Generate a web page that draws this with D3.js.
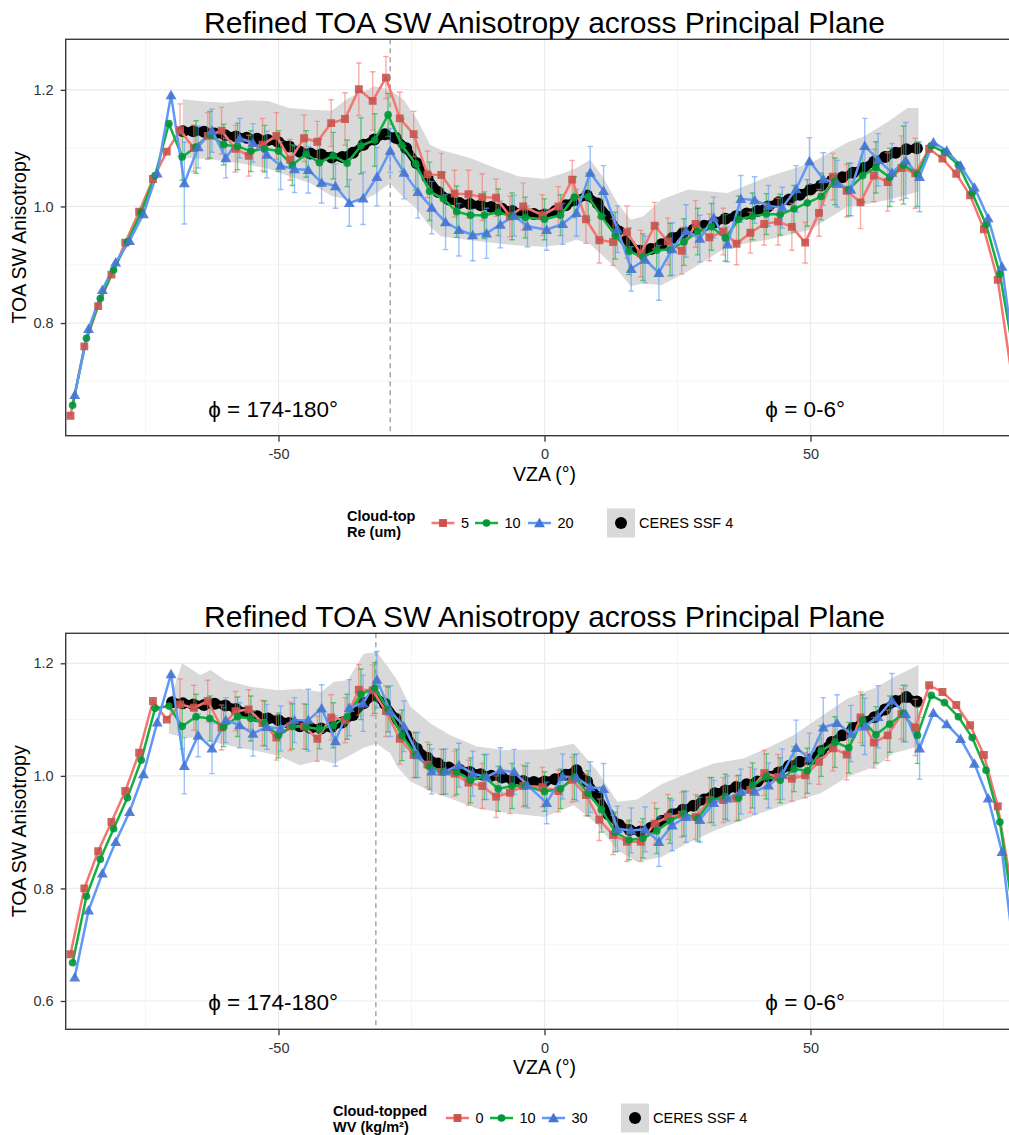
<!DOCTYPE html>
<html>
<head>
<meta charset="utf-8">
<script src="https://cdn.jsdelivr.net/npm/d3@7"></script>
<style>
body { margin: 0; background: #fff; }
svg { display: block; }
text { font-family: "Liberation Sans", Arial, Helvetica, sans-serif; }
</style>
</head>
<body>
<div id="chart"></div>
<script>
// VZA bin centres shared by the three model series
var vza = [-88.7, -86.1, -83.5, -81.0, -78.4, -75.8, -73.2, -70.6, -68.1, -65.5,
  -62.9, -60.3, -57.7, -55.2, -52.6, -50.0, -47.4, -44.8, -42.3, -39.7,
  -37.1, -34.5, -31.9, -29.4, -26.8, -24.2, -21.6, -19.0, -16.5, -13.9,
  -11.3, -8.7, -6.1, -3.6, 0, 3.0, 5.6, 8.2, 10.7, 13.3,
  15.9, 18.5, 21.1, 23.6, 26.2, 28.8, 31.4, 34.0, 36.5, 39.1,
  41.7, 44.3, 46.9, 49.4, 52.0, 54.6, 57.2, 59.8, 62.3, 64.9,
  67.5, 70.1, 72.7, 75.2, 77.8, 80.4, 83.0, 85.6, 88.9]

// ---- top panel : cloud-top Re ----
var re5 = [0.641, 0.760, 0.829, 0.883, 0.938, 0.991, 1.047, 1.094, 1.131, 1.100,
  1.121, 1.130, 1.099, 1.087, 1.106, 1.121, 1.080, 1.117, 1.111, 1.143,
  1.150, 1.201, 1.181, 1.221, 1.151, 1.124, 1.055, 1.054, 1.022, 1.021,
  1.016, 1.015, 0.983, 1.000, 0.985, 1.000, 1.046, 0.978, 0.942, 0.939,
  0.956, 0.919, 0.967, 0.940, 0.924, 0.970, 0.947, 0.957, 0.936, 0.955,
  0.970, 0.974, 0.965, 0.938, 0.989, 1.051, 1.027, 1.007, 1.053, 1.042,
  1.066, 1.057, 1.099, 1.082, 1.056, 1.019, 0.961, 0.874, 0.668]
var re10 = [0.659, 0.774, 0.842, 0.891, 0.939, 0.990, 1.053, 1.142, 1.085, 1.102,
  1.123, 1.106, 1.103, 1.095, 1.099, 1.095, 1.071, 1.090, 1.075, 1.087,
  1.074, 1.104, 1.114, 1.157, 1.105, 1.073, 1.026, 1.013, 0.991, 0.985,
  0.985, 0.990, 0.983, 0.981, 0.978, 0.985, 1.016, 1.017, 0.983, 0.950,
  0.923, 0.913, 0.925, 0.926, 0.939, 0.957, 0.965, 0.946, 0.978, 0.983,
  0.987, 0.986, 0.996, 1.006, 1.017, 1.043, 1.029, 1.053, 1.067, 1.050,
  1.071, 1.055, 1.104, 1.093, 1.071, 1.023, 0.969, 0.884, 0.710]
var re20 = [0.677, 0.790, 0.857, 0.904, 0.941, 0.987, 1.057, 1.191, 1.040, 1.102,
  1.130, 1.083, 1.117, 1.109, 1.089, 1.070, 1.064, 1.063, 1.041, 1.035,
  1.006, 1.014, 1.051, 1.096, 1.058, 1.025, 0.998, 0.973, 0.960, 0.951,
  0.954, 0.969, 0.984, 0.966, 0.960, 0.970, 0.989, 1.058, 1.027, 0.961,
  0.893, 0.909, 0.886, 0.927, 0.958, 0.945, 0.981, 0.935, 1.013, 1.011,
  1.001, 0.998, 1.030, 1.078, 1.047, 1.039, 1.029, 1.104, 1.080, 1.058,
  1.079, 1.051, 1.110, 1.096, 1.070, 1.033, 0.980, 0.897, 0.675]
var errRe5 = [0, 0, 0, 0, 0, 0, 0, 0,
  0.045, 0.04, 0.04, 0.04, 0.04, 0.035, 0.045, 0.04, 0.035, 0.04, 0.035, 0.04,
  0.045, 0.045, 0.05, 0.036, 0.045, 0.039, 0.04, 0.037, 0.04, 0.041,
  0.04, 0.032, 0.035, 0.04, 0.035, 0.034, 0.033, 0.041, 0.039, 0.04,
  0.045, 0.04, 0.04, 0.04, 0.04, 0.04, 0.04, 0.04, 0.036, 0.035,
  0.036, 0.04, 0.04, 0.035, 0.04, 0.04, 0.045, 0.045, 0.045, 0.05,
  0.055, 0.06, 0, 0, 0, 0, 0, 0, 0]
var errRe10 = [0, 0, 0, 0, 0, 0, 0, 0,
  0.04, 0.045, 0.04, 0.035, 0.04, 0.035, 0.04, 0.035, 0.035, 0.04, 0.04, 0.04,
  0.04, 0.048, 0.045, 0.037, 0.045, 0.045, 0.05, 0.045, 0.044, 0.04,
  0.04, 0.04, 0.04, 0.035, 0.035, 0.035, 0.035, 0.04, 0.04, 0.04,
  0.04, 0.04, 0.045, 0.045, 0.04, 0.04, 0.04, 0.04, 0.04, 0.04,
  0.035, 0.035, 0.04, 0.04, 0.04, 0.04, 0.045, 0.045, 0.044, 0.05,
  0.067, 0.055, 0, 0, 0, 0, 0, 0, 0]
var errRe20 = [0, 0, 0, 0, 0, 0, 0, 0,
  0.07, 0.036, 0.037, 0.034, 0.034, 0.033, 0.04, 0.041, 0.04, 0.04, 0.035, 0.038,
  0.04, 0.045, 0.05, 0.038, 0.045, 0.045, 0.045, 0.047, 0.045, 0.044,
  0.043, 0.04, 0.035, 0.035, 0.035, 0.035, 0.04, 0.045, 0.043, 0.04,
  0.038, 0.04, 0.047, 0.045, 0.045, 0.04, 0.035, 0.03, 0.04, 0.04,
  0.035, 0.035, 0.04, 0.04, 0.045, 0.04, 0.045, 0.047, 0.045, 0.05,
  0.065, 0.06, 0, 0, 0, 0, 0, 0, 0]

var ceresXTop = [-68, -66, -64, -62, -60, -58, -56, -54, -52, -50, -48, -46, -44, -42, -40,
  -38, -36, -34, -32, -30, -28, -26, -24, -22, -20, -18, -16, -14, -12, -10,
  -8, -6, -4, -2, 0, 2, 4, 6, 8, 10, 12, 14, 16, 18, 20,
  22, 24, 26, 28, 30, 32, 34, 36, 38, 40, 42, 44, 46, 48, 50,
  52, 54, 56, 58, 60, 62, 64, 66, 68, 70]
var ceresTop = [1.129, 1.129, 1.128, 1.125, 1.122, 1.120, 1.118, 1.116, 1.114, 1.110, 1.103, 1.094, 1.091, 1.089, 1.084,
  1.085, 1.092, 1.106, 1.115, 1.124, 1.118, 1.100, 1.074, 1.050, 1.025, 1.012, 1.006, 1.004, 1.002, 0.999,
  0.996, 0.992, 0.989, 0.987, 0.986, 0.992, 1.002, 1.011, 1.019, 1.005, 0.982, 0.957, 0.933, 0.924, 0.927,
  0.935, 0.946, 0.954, 0.960, 0.967, 0.973, 0.979, 0.983, 0.988, 0.992, 1.000, 1.007, 1.012, 1.020, 1.029,
  1.036, 1.044, 1.050, 1.058, 1.066, 1.077, 1.085, 1.092, 1.098, 1.100]
var ribXTop = [-68, -64, -60, -56, -52, -48, -44, -40, -37, -34,
  -32, -29, -26.5, -24, -21.5, -19.5, -14, -9, -5, 0,
  3.5, 6, 8.6, 11, 13.7, 16.2, 18.6, 22, 27, 34.4,
  42, 50, 57, 60, 64.5, 68.2, 70.3]
var ribHiTop = [1.184, 1.180, 1.178, 1.182, 1.181, 1.169, 1.166, 1.164, 1.185, 1.197,
  1.206, 1.200, 1.183, 1.150, 1.106, 1.097, 1.083, 1.065, 1.052, 1.047,
  1.057, 1.066, 1.080, 1.050, 1.006, 0.977, 0.983, 1.012, 1.029, 1.023,
  1.051, 1.074, 1.110, 1.120, 1.145, 1.169, 1.169]
var ribLoTop = [1.083, 1.082, 1.078, 1.072, 1.065, 1.052, 1.040, 1.018, 1.012, 1.011,
  1.020, 1.040, 1.015, 0.995, 0.965, 0.949, 0.942, 0.937, 0.933, 0.931,
  0.935, 0.943, 0.935, 0.915, 0.891, 0.863, 0.868, 0.865, 0.889, 0.931,
  0.943, 0.960, 1.000, 1.003, 1.011, 1.020, 1.026]

// ---- bottom panel : cloud-topped WV ----
var wv0 = [0.683, 0.800, 0.866, 0.918, 0.973, 1.041, 1.133, 1.100, 1.127, 1.121,
  1.133, 1.086, 1.115, 1.118, 1.094, 1.068, 1.088, 1.088, 1.066, 1.104,
  1.099, 1.153, 1.152, 1.115, 1.066, 1.037, 1.020, 1.007, 1.004, 0.988,
  0.982, 0.963, 0.970, 0.982, 0.980, 0.973, 0.993, 0.966, 0.922, 0.895,
  0.883, 0.883, 0.915, 0.927, 0.931, 0.927, 0.957, 0.957, 0.960, 0.975,
  1.005, 0.998, 0.995, 1.001, 1.025, 1.049, 1.038, 1.104, 1.059, 1.072,
  1.110, 1.086, 1.161, 1.149, 1.126, 1.090, 1.037, 0.946, 0.762]
var wv10 = [0.668, 0.786, 0.852, 0.906, 0.961, 1.028, 1.120, 1.124, 1.088, 1.105,
  1.102, 1.087, 1.105, 1.102, 1.093, 1.072, 1.088, 1.087, 1.083, 1.090,
  1.105, 1.145, 1.156, 1.118, 1.072, 1.037, 1.016, 1.007, 1.007, 0.992,
  0.998, 0.977, 0.982, 0.982, 0.972, 0.977, 0.998, 0.969, 0.940, 0.900,
  0.886, 0.889, 0.902, 0.920, 0.933, 0.924, 0.957, 0.963, 0.961, 0.983,
  0.999, 0.992, 1.012, 1.009, 1.044, 1.060, 1.050, 1.099, 1.073, 1.092,
  1.111, 1.072, 1.143, 1.130, 1.105, 1.068, 1.010, 0.918, 0.706]
var wv30 = [0.642, 0.761, 0.827, 0.883, 0.936, 1.003, 1.095, 1.181, 1.018, 1.072,
  1.049, 1.099, 1.090, 1.075, 1.087, 1.084, 1.099, 1.099, 1.120, 1.062,
  1.121, 1.129, 1.171, 1.115, 1.088, 1.037, 1.008, 1.008, 1.019, 1.004,
  0.998, 1.010, 1.007, 0.983, 0.952, 0.999, 0.997, 0.980, 0.977, 0.906,
  0.903, 0.905, 0.883, 0.912, 0.927, 0.922, 0.952, 0.960, 0.972, 0.972,
  0.983, 1.003, 1.050, 1.031, 1.086, 1.094, 1.075, 1.088, 1.105, 1.134,
  1.110, 1.049, 1.112, 1.092, 1.066, 1.022, 0.960, 0.865, 0.600]
var errWv0 = [0, 0, 0, 0, 0, 0, 0, 0,
  0.045, 0.04, 0.037, 0.04, 0.035, 0.035, 0.04, 0.04, 0.043, 0.04, 0.04, 0.04,
  0.04, 0.045, 0.045, 0.045, 0.045, 0.04, 0.04, 0.04, 0.04, 0.04,
  0.04, 0.037, 0.037, 0.037, 0.035, 0.037, 0.04, 0.037, 0.037, 0.035,
  0.035, 0.035, 0.037, 0.04, 0.04, 0.04, 0.04, 0.04, 0.04, 0.04,
  0.04, 0.04, 0.04, 0.04, 0.04, 0.04, 0.045, 0.045, 0.045, 0.045,
  0.045, 0.05, 0, 0, 0, 0, 0, 0, 0]
var errWv10 = [0, 0, 0, 0, 0, 0, 0, 0,
  0.04, 0.04, 0.04, 0.035, 0.035, 0.04, 0.04, 0.04, 0.04, 0.04, 0.035, 0.04,
  0.04, 0.045, 0.045, 0.04, 0.045, 0.04, 0.04, 0.04, 0.04, 0.04,
  0.04, 0.04, 0.04, 0.035, 0.035, 0.035, 0.04, 0.04, 0.04, 0.035,
  0.035, 0.035, 0.04, 0.04, 0.04, 0.04, 0.04, 0.04, 0.04, 0.04,
  0.04, 0.04, 0.04, 0.04, 0.045, 0.045, 0.045, 0.045, 0.05, 0.05,
  0.05, 0.05, 0, 0, 0, 0, 0, 0, 0]
var errWv30 = [0, 0, 0, 0, 0, 0, 0, 0,
  0.05, 0.038, 0.045, 0.04, 0.04, 0.04, 0.04, 0.04, 0.04, 0.055, 0.042, 0.045,
  0.05, 0.05, 0.05, 0.045, 0.045, 0.04, 0.04, 0.04, 0.039, 0.04,
  0.04, 0.04, 0.04, 0.04, 0.037, 0.04, 0.042, 0.045, 0.045, 0.04,
  0.04, 0.04, 0.044, 0.045, 0.045, 0.04, 0.04, 0.04, 0.04, 0.04,
  0.04, 0.045, 0.049, 0.045, 0.053, 0.05, 0.05, 0.05, 0.055, 0.048,
  0.05, 0.055, 0, 0, 0, 0, 0, 0, 0]

var ceresXBot = [-70, -68, -66, -64, -62, -60, -58, -56, -54, -52, -50, -48, -46, -44, -42,
  -40, -38, -36, -34, -32, -30, -28, -26, -24, -22, -20, -18, -16, -14, -12,
  -10, -8, -6, -4, -2, 0, 2, 4, 6, 8, 10, 12, 14, 16, 18,
  20, 22, 24, 26, 28, 30, 32, 34, 36, 38, 40, 42, 44, 46, 48,
  50, 52, 54, 56, 58, 60, 62, 64, 66, 68, 70]
var ceresBot = [1.131, 1.129, 1.127, 1.126, 1.128, 1.125, 1.119, 1.112, 1.106, 1.102, 1.099, 1.094, 1.088, 1.085, 1.084,
  1.087, 1.095, 1.108, 1.129, 1.143, 1.128, 1.102, 1.072, 1.048, 1.032, 1.022, 1.015, 1.011, 1.007, 1.003,
  1.000, 0.997, 0.993, 0.991, 0.989, 0.990, 0.994, 1.002, 1.010, 0.990, 0.963, 0.932, 0.913, 0.904, 0.901,
  0.908, 0.920, 0.932, 0.940, 0.947, 0.958, 0.969, 0.974, 0.980, 0.985, 0.990, 0.999, 1.006, 1.018, 1.025,
  1.029, 1.044, 1.060, 1.072, 1.085, 1.096, 1.104, 1.118, 1.133, 1.140, 1.132]
var ribXBot = [-70.6, -68.1, -64.7, -62.8, -60, -55, -50, -46, -42, -39.6,
  -37, -34, -31.5, -29, -27.7, -25.2, -21.4, -17.7, -12.7, -7.7,
  0, 5.5, 9.8, 13.7, 17.4, 22, 26.8, 31.8, 37.4, 42.5,
  46.8, 51.9, 56.9, 62.5, 65.6, 70.3]
var ribHiBot = [1.130, 1.200, 1.179, 1.188, 1.170, 1.158, 1.152, 1.155, 1.149, 1.167,
  1.170, 1.217, 1.220, 1.188, 1.170, 1.123, 1.093, 1.072, 1.052, 1.046,
  1.047, 1.057, 1.010, 0.954, 0.958, 0.985, 1.004, 1.022, 1.031, 1.052,
  1.072, 1.105, 1.137, 1.158, 1.175, 1.197]
var ribLoBot = [1.075, 1.069, 1.066, 1.062, 1.055, 1.046, 1.036, 1.019, 1.028, 1.022,
  1.034, 1.050, 1.057, 1.040, 1.016, 0.990, 0.972, 0.960, 0.942, 0.935,
  0.927, 0.948, 0.915, 0.868, 0.847, 0.856, 0.880, 0.902, 0.922, 0.940,
  0.954, 0.969, 0.998, 1.018, 1.040, 1.052]

var width = 1009
var height = 1135
var svg = d3.select('#chart').append('svg')
    .attr('width', width)
    .attr('height', height)

// line colours, darker marker colours, symbol per series
var lineCol = ['#f4766e', '#12b040', '#5f98f7']
var markCol = ['#c8534c', '#00963a', '#4574d2']
var shapes = [d3.symbolSquare, d3.symbolCircle, d3.symbolTriangle]
var shapeSize = [62, 46, 52]
var dodge = [-0.4, 0, 0.4]

var x = d3.scaleLinear().domain([-90, 90]).range([65.7, 1023.3])

function drawPanel(p) {
    var y = d3.scaleLinear().domain(p.yDomain).range([p.bottom, p.top])
    var g = svg.append('g')

    g.append('clipPath').attr('id', 'clip' + p.id)
        .append('rect')
        .attr('x', x.range()[0]).attr('y', p.top)
        .attr('width', x.range()[1] - x.range()[0]).attr('height', p.bottom - p.top)

    // grid
    var grid = g.append('g')
    grid.selectAll('.gmy').data(p.minorY).enter().append('line')
        .attr('x1', x.range()[0]).attr('x2', x.range()[1])
        .attr('y1', function (d) { return y(d) }).attr('y2', function (d) { return y(d) })
        .attr('stroke', '#f4f4f4').attr('stroke-width', 0.9)
    grid.selectAll('.gmx').data([-75, -25, 25, 75]).enter().append('line')
        .attr('y1', p.top).attr('y2', p.bottom)
        .attr('x1', function (d) { return x(d) }).attr('x2', function (d) { return x(d) })
        .attr('stroke', '#f4f4f4').attr('stroke-width', 0.9)
    grid.selectAll('.gy').data(p.yTicks).enter().append('line')
        .attr('x1', x.range()[0]).attr('x2', x.range()[1])
        .attr('y1', function (d) { return y(d) }).attr('y2', function (d) { return y(d) })
        .attr('stroke', '#ebebeb').attr('stroke-width', 1.2)
    grid.selectAll('.gx').data([-50, 0, 50]).enter().append('line')
        .attr('y1', p.top).attr('y2', p.bottom)
        .attr('x1', function (d) { return x(d) }).attr('x2', function (d) { return x(d) })
        .attr('stroke', '#ebebeb').attr('stroke-width', 1.2)

    var plot = g.append('g').attr('clip-path', 'url(#clip' + p.id + ')')

    // CERES spread ribbon
    var area = d3.area()
        .x(function (d, i) { return x(p.ribX[i]) })
        .y0(function (d, i) { return y(p.ribLo[i]) })
        .y1(function (d, i) { return y(p.ribHi[i]) })
    plot.append('path').datum(p.ribX).attr('d', area).attr('fill', '#d9d9d9')

    // dashed line
    plot.append('line')
        .attr('x1', x(p.dashX)).attr('x2', x(p.dashX))
        .attr('y1', p.top).attr('y2', p.bottom)
        .attr('stroke', '#a6a6a6').attr('stroke-width', 1.5)
        .attr('stroke-dasharray', '5,4')

    // CERES thick black
    var cline = d3.line()
        .x(function (d, i) { return x(p.ceresX[i]) })
        .y(function (d) { return y(d) })
    plot.append('path').datum(p.ceres).attr('d', cline)
        .attr('fill', 'none').attr('stroke', '#000').attr('stroke-width', 8)
    plot.selectAll('.ceres').data(p.ceres).enter().append('circle')
        .attr('cx', function (d, i) { return x(p.ceresX[i]) })
        .attr('cy', function (d) { return y(d) })
        .attr('r', 6).attr('fill', '#000')

    // error bars
    p.series.forEach(function (s, k) {
        var eg = plot.append('g').attr('stroke', lineCol[k]).attr('stroke-opacity', 0.6)
            .attr('stroke-width', 1.4)
        s.forEach(function (v, i) {
            var e = p.errs[k][i]
            if (!e) return
            var cx = x(vza[i] + dodge[k])
            eg.append('line').attr('x1', cx).attr('x2', cx)
                .attr('y1', y(v - e)).attr('y2', y(v + e))
            eg.append('line').attr('x1', cx - 2.8).attr('x2', cx + 2.8)
                .attr('y1', y(v - e)).attr('y2', y(v - e))
            eg.append('line').attr('x1', cx - 2.8).attr('x2', cx + 2.8)
                .attr('y1', y(v + e)).attr('y2', y(v + e))
        })
    })

    // series lines and markers
    p.series.forEach(function (s, k) {
        var line = d3.line()
            .x(function (d, i) { return x(vza[i] + dodge[k]) })
            .y(function (d) { return y(d) })
        plot.append('path').datum(s).attr('d', line)
            .attr('fill', 'none').attr('stroke', lineCol[k]).attr('stroke-width', 2.5)
            .attr('stroke-linejoin', 'round')
    })
    p.series.forEach(function (s, k) {
        var sym = d3.symbol().type(shapes[k]).size(shapeSize[k])
        plot.selectAll('.m' + k).data(s).enter().append('path')
            .attr('d', sym)
            .attr('transform', function (d, i) {
                var dy = k === 2 ? 1 : 0
                return 'translate(' + x(vza[i] + dodge[k]) + ',' + (y(d) + dy) + ')'
            })
            .attr('fill', markCol[k]).attr('fill-opacity', 0.9)
    })

    // axes
    var ya = g.append('g').attr('transform', 'translate(' + x.range()[0] + ',0)')
        .call(d3.axisLeft(y).tickValues(p.yTicks).tickFormat(d3.format('.1f'))
            .tickSize(5).tickPadding(7))
    var xa = g.append('g').attr('transform', 'translate(0,' + p.bottom + ')')
        .call(d3.axisBottom(x).tickValues([-50, 0, 50]).tickFormat(function (d) { return String(d) })
            .tickSize(6).tickPadding(7))
    ;[ya, xa].forEach(function (a) {
        a.select('.domain').remove()
        a.selectAll('.tick line').attr('stroke', '#333').attr('stroke-width', 1.3)
        a.selectAll('.tick text').attr('fill', '#333').style('font-size', '14.5px')
            .style('font-family', '"Liberation Sans", Arial, sans-serif')
    })

    // panel border
    g.append('rect')
        .attr('x', x.range()[0]).attr('y', p.top)
        .attr('width', x.range()[1] - x.range()[0]).attr('height', p.bottom - p.top)
        .attr('fill', 'none').attr('stroke', '#3a3a3a').attr('stroke-width', 1.4)

    // titles
    g.append('text').attr('x', 544.5).attr('y', p.top - 6)
        .attr('text-anchor', 'middle').style('font-size', '30px')
        .text('Refined TOA SW Anisotropy across Principal Plane')
    g.append('text')
        .attr('transform', 'translate(26,' + (p.top + p.bottom) / 2 + ') rotate(-90)')
        .attr('text-anchor', 'middle').style('font-size', '19.5px')
        .text('TOA SW Anisotropy')
    g.append('text').attr('x', 544.5).attr('y', p.bottom + 45)
        .attr('text-anchor', 'middle').style('font-size', '19.5px')
        .text('VZA (°)')

    // azimuth annotations
    g.append('text').attr('x', x(-51)).attr('y', p.bottom - 19)
        .attr('text-anchor', 'middle').style('font-size', '22.5px')
        .text('ϕ = 174-180°')
    g.append('text').attr('x', x(49)).attr('y', p.bottom - 19)
        .attr('text-anchor', 'middle').style('font-size', '22.5px')
        .text('ϕ = 0-6°')

    // legend
    var L = p.legend
    var lg = g.append('g')
    lg.append('text').attr('x', L.x).attr('y', L.y - 2)
        .style('font-size', '14.5px').style('font-weight', 'bold').text(L.title[0])
    lg.append('text').attr('x', L.x).attr('y', L.y + 14)
        .style('font-size', '14.5px').style('font-weight', 'bold').text(L.title[1])
    L.labels.forEach(function (lab, k) {
        var x0 = L.keyX[k]
        lg.append('line').attr('x1', x0).attr('x2', x0 + 23)
            .attr('y1', L.y).attr('y2', L.y)
            .attr('stroke', lineCol[k]).attr('stroke-width', 2.5)
        lg.append('path').attr('d', d3.symbol().type(shapes[k]).size(shapeSize[k]))
            .attr('transform', 'translate(' + (x0 + 11.5) + ',' + (L.y + (k === 2 ? 1 : 0)) + ')')
            .attr('fill', markCol[k])
        lg.append('text').attr('x', x0 + 29.5).attr('y', L.y).attr('dy', '0.36em')
            .style('font-size', '14.5px').text(lab)
    })
    lg.append('rect').attr('x', L.boxX).attr('y', L.y - 14.5)
        .attr('width', 28).attr('height', 29).attr('fill', '#d9d9d9')
    lg.append('circle').attr('cx', L.boxX + 14).attr('cy', L.y).attr('r', 6).attr('fill', '#000')
    lg.append('text').attr('x', L.boxX + 32).attr('y', L.y).attr('dy', '0.36em')
        .style('font-size', '14.5px').text('CERES SSF 4')
}

drawPanel({
    id: 'top',
    top: 39.3,
    bottom: 435.7,
    yDomain: [0.6068, 1.2867],
    yTicks: [0.8, 1.0, 1.2],
    minorY: [0.7, 0.9, 1.1],
    dashX: -29.0,
    series: [re5, re10, re20],
    errs: [errRe5, errRe10, errRe20],
    ceresX: ceresXTop,
    ceres: ceresTop,
    ribX: ribXTop, ribLo: ribLoTop, ribHi: ribHiTop,
    legend: { x: 347, y: 523, title: ['Cloud-top', 'Re (um)'], labels: ['5', '10', '20'],
        keyX: [431.5, 475, 528], boxX: 607 }
})

drawPanel({
    id: 'bot',
    top: 633.3,
    bottom: 1029.3,
    yDomain: [0.5497, 1.2533],
    yTicks: [0.6, 0.8, 1.0, 1.2],
    minorY: [0.7, 0.9, 1.1],
    dashX: -31.7,
    series: [wv0, wv10, wv30],
    errs: [errWv0, errWv10, errWv30],
    ceresX: ceresXBot,
    ceres: ceresBot,
    ribX: ribXBot, ribLo: ribLoBot, ribHi: ribHiBot,
    legend: { x: 333, y: 1118, title: ['Cloud-topped', 'WV (kg/m²)'], labels: ['0', '10', '30'],
        keyX: [446, 490, 542], boxX: 621 }
})
</script>
</body>
</html>
